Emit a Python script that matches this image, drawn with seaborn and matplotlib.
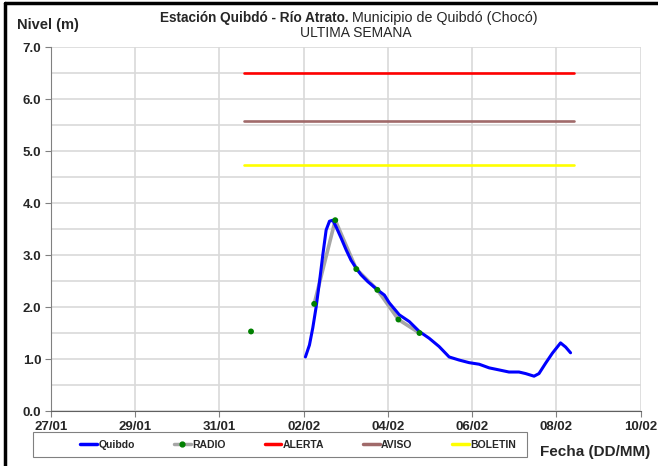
import matplotlib

matplotlib.use("Agg")
import matplotlib.dates as mdates
import matplotlib.pyplot as plt
import numpy as np
import pandas as pd
import seaborn as sns
from matplotlib.lines import Line2D
from matplotlib.patches import Rectangle

# hours since 27/01 00:00 and level (m)
quibdo_h = [145.0, 147.3, 149.2, 151.1, 153.0, 154.9, 156.8, 158.7, 160.6, 162.5,
            165.3, 168.2, 171.0, 173.9, 176.7, 180.5, 186.1, 190.0, 192.8, 198.5,
            204.2, 209.9, 215.5, 221.2, 226.9, 232.6, 238.3, 244.0, 249.7, 255.4,
            261.0, 266.7, 270.5, 275.3, 278.1, 281.9, 285.7, 290.4, 293.3, 296.1]
quibdo_v = [1.04, 1.27, 1.60, 2.00, 2.48, 3.00, 3.48, 3.65, 3.67, 3.54,
            3.33, 3.10, 2.90, 2.75, 2.62, 2.49, 2.33, 2.23, 2.08, 1.85,
            1.72, 1.53, 1.40, 1.24, 1.04, 0.98, 0.93, 0.90, 0.83, 0.79,
            0.75, 0.75, 0.72, 0.67, 0.72, 0.92, 1.11, 1.31, 1.23, 1.12]

radio_h = [114, 126, 138, 150, 162, 174, 186, 198, 210]
radio_v = [1.53, np.nan, np.nan, 2.06, 3.67, 2.73, 2.33, 1.76, 1.50]

umbral_h = [110, 298]
alerta = 6.5
aviso = 5.58
boletin = 4.73

base = pd.Timestamp("2021-01-27")
q = pd.DataFrame({"t": base + pd.to_timedelta(quibdo_h, unit="h"), "v": quibdo_v})
r = pd.DataFrame({"t": base + pd.to_timedelta(radio_h, unit="h"), "v": radio_v})
r["seg"] = r["v"].isna().cumsum()
u_t = base + pd.to_timedelta(umbral_h, unit="h")

sns.set_style("white")
plt.rcParams["font.family"] = ["Liberation Sans Narrow", "Liberation Sans", "DejaVu Sans"]

fig = plt.figure(figsize=(6.58, 4.66), dpi=100)
ax = fig.add_axes([0.0775, 0.118, 0.896, 0.781])

ax.grid(True, color="#d9d9d9", lw=1.2)
ax.set_axisbelow(True)

for val, col in [(alerta, "#ff0000"), (aviso, "#a06a6a"), (boletin, "#ffff00")]:
    sns.lineplot(x=u_t, y=[val, val], color=col, lw=1.9, ax=ax)

# gaps (NaN) split the radio series into separate segments
r_line = r.dropna()
sns.lineplot(data=r_line, x="t", y="v", units="seg", estimator=None,
             color="#a6a6a6", lw=2.6, ax=ax)
sns.lineplot(data=q, x="t", y="v", color="#0000ff", lw=2.2, ax=ax)
sns.scatterplot(data=r, x="t", y="v", color="#008000", s=18, edgecolor="none",
                ax=ax, zorder=5)

ax.set_xlim(base, base + pd.Timedelta(days=14))
ax.set_ylim(0, 7)
ax.xaxis.set_major_locator(mdates.DayLocator(interval=2))
ax.xaxis.set_major_formatter(mdates.DateFormatter("%d/%m"))
ax.set_yticks(np.arange(0, 7.01, 1.0))
ax.set_yticks(np.arange(0.5, 7, 1.0), minor=True)
ax.grid(True, which="minor", axis="y", color="#d9d9d9", lw=1.2)
ax.set_yticklabels([f"{v:.1f}" for v in np.arange(0, 7.01, 1.0)])
ax.tick_params(axis="both", which="major", length=4, width=0.8, color="#808080",
               labelsize=9.5, direction="out", pad=3, bottom=True, left=True)
ax.tick_params(axis="y", which="minor", length=0)
for lab in ax.get_xticklabels() + ax.get_yticklabels():
    lab.set_fontweight("bold")
ax.set_xlabel("")
ax.set_ylabel("")
for s in ["top", "right"]:
    ax.spines[s].set_visible(False)
ax.spines["left"].set_color("#808080")
ax.spines["bottom"].set_color("#606060")

fig.text(0.530, 0.962, "Estación Quibdó - Río Atrato.", ha="right", va="center",
         fontsize=9.8, fontweight="bold")
fig.text(0.535, 0.962, "Municipio de Quibdó (Chocó)", ha="left", va="center",
         fontsize=10.3)
fig.text(0.541, 0.930, "ULTIMA SEMANA", ha="center", va="center", fontsize=10)
fig.text(0.026, 0.946, "Nivel (m)", ha="left", va="center", fontsize=10.5,
         fontweight="bold")
fig.text(0.905, 0.030, "Fecha (DD/MM)", ha="center", va="center", fontsize=11,
         fontweight="bold")

handles = [
    Line2D([], [], color="#0000ff", lw=2.5),
    Line2D([], [], color="#a6a6a6", lw=2.5, marker="o", markersize=3.5,
           markerfacecolor="#008000", markeredgecolor="#008000"),
    Line2D([], [], color="#ff0000", lw=2.5),
    Line2D([], [], color="#a06a6a", lw=2.5),
    Line2D([], [], color="#ffff00", lw=2.5),
]
labels = ["Quibdo", "RADIO", "ALERTA", "AVISO", "BOLETIN"]
fig.legend(handles, labels, ncol=5, loc="center", mode="expand",
           bbox_to_anchor=(0.108, 0.02, 0.69, 0.052), frameon=False,
           handlelength=1.6, handletextpad=0.1,
           prop={"size": 7.5, "weight": "bold"})
fig.add_artist(Rectangle((0.05, 0.019), 0.751, 0.054, transform=fig.transFigure,
                         facecolor="none", edgecolor="#808080", lw=0.8))

fig.add_artist(Line2D([0.008, 0.008], [0, 0.994], color="black", lw=2.5,
                      transform=fig.transFigure))
fig.add_artist(Line2D([0.008, 1.0], [0.994, 0.994], color="black", lw=2.5,
                      transform=fig.transFigure))

fig.savefig("out.png", dpi=100)
